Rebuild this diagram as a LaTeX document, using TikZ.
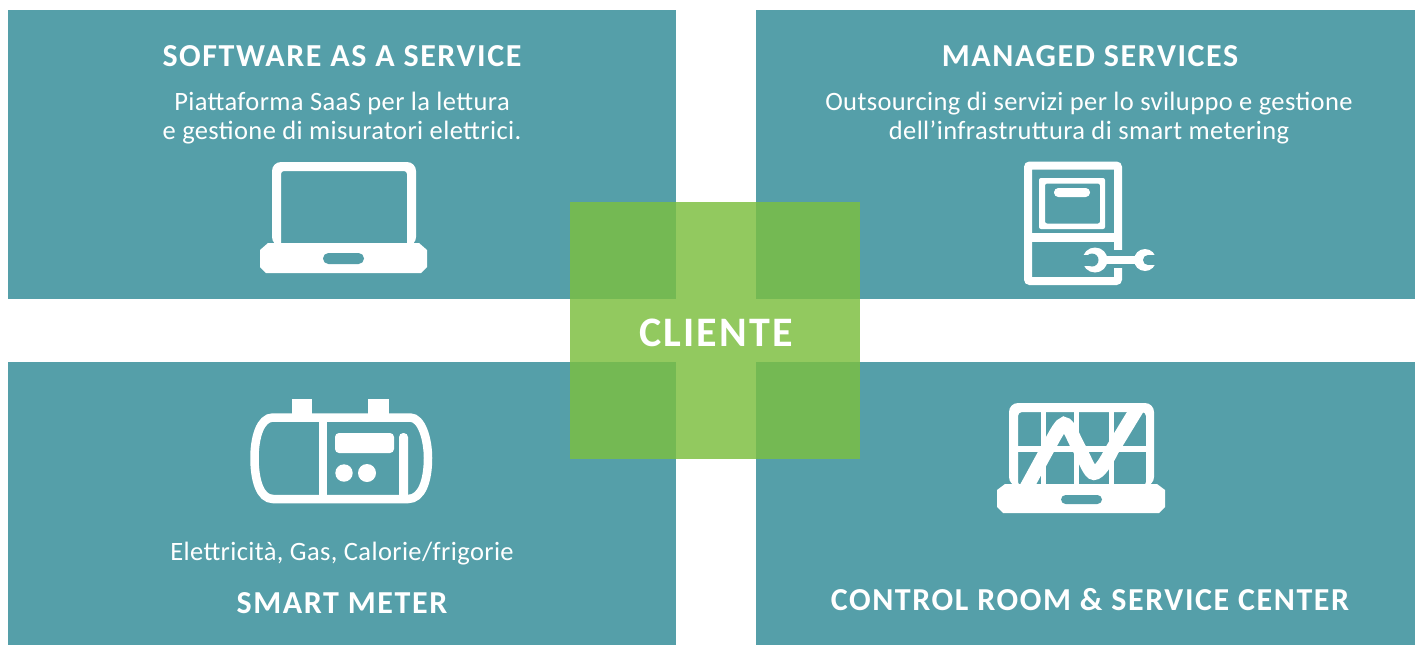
\documentclass[tikz,border=0pt]{standalone}
\usepackage{fontspec}
\setmainfont{Carlito}
\newfontfamily\headfont[LetterSpace=5,BoldFont=Carlito Bold]{Carlito}
\newfontfamily\bodyfont[LetterSpace=1.5]{Carlito}
\definecolor{teal}{HTML}{559FA9}
\definecolor{gl}{HTML}{92C95F}
\definecolor{gd}{HTML}{74B953}
\tikzset{
  panel/.style={fill=teal},
  ico/.style={fill=white},
  icoline/.style={draw=white,line width=#1},
  hole/.style={fill=teal},
  head/.style={white,anchor=base,inner sep=0pt,font=\headfont\bfseries\fontsize{32}{34}\selectfont},
  body/.style={white,anchor=base,inner sep=0pt,font=\bodyfont\fontsize{26.5}{28}\selectfont},
}
\begin{document}
\begin{tikzpicture}[x=1pt,y=-1pt]
\useasboundingbox (0,0) rectangle (1415,645);
\fill[white] (0,0) rectangle (1415,645);
% panels
\fill[panel] (8,10) rectangle (676,299);
\fill[panel] (756,10) rectangle (1415,299);
\fill[panel] (8,362) rectangle (676,645);
\fill[panel] (756,362) rectangle (1415,645);
% centre
\fill[gl] (570,202) rectangle (860,459);
\fill[gd] (570,202) rectangle (676,299);
\fill[gd] (756,202) rectangle (860,299);
\fill[gd] (570,362) rectangle (676,459);
\fill[gd] (756,362) rectangle (860,459);
% texts
\node[head] (saas) at (342,66) {SOFTWARE AS A SERVICE};
\node[body] (saas1) at (342,110) {Piattaforma SaaS per la lettura};
\node[body] (saas2) at (342,139) {e gestione di misuratori elettrici.};
\node[head] (ms) at (1090,66) {MANAGED SERVICES};
\node[body] (ms1) at (1089,110) {Outsourcing di servizi per lo sviluppo e gestione};
\node[body] (ms2) at (1089,139) {dell’infrastruttura di smart metering};
\node[head,font=\headfont\bfseries\fontsize{42}{44}\selectfont] (cl) at (716,346) {CLIENTE};
\node[body] (sm1) at (342,560) {Elettricità, Gas, Calorie/frigorie};
\node[head] (sm) at (342,613) {SMART METER};
\node[head] (cr) at (1090,610) {CONTROL ROOM \& SERVICE CENTER};
% laptop
\fill[ico,even odd rule,rounded corners=9pt] (272,246) -- (272,162) -- (416,162) -- (416,246) -- cycle
  [rounded corners=3pt] (281,246) -- (281,171) -- (407,171) -- (407,246) -- cycle;
\fill[ico] (268,243) -- (419,243) -- (427,250) -- (427,267) -- (421,273) -- (266,273) -- (260,267) -- (260,250) -- cycle;
\fill[hole,rounded corners=5.4pt] (323,253) rectangle (364,264);
% managed icon
\draw[icoline=8pt,rounded corners=2pt] (1028,165.5) rectangle (1118,281);
\fill[ico] (1028,233) rectangle (1118,242);
\fill[ico,even odd rule,rounded corners=2pt] (1039,178) rectangle (1105,229) (1045,183.5) rectangle (1100,223.5);
\fill[ico,rounded corners=4.3pt] (1054,188) rectangle (1090,197);
\fill[hole] (1112,250) rectangle (1123,268);
\fill[ico] (1095,255.7) rectangle (1146,264.3);
\fill[ico] (1095,260) circle (12.5);
\fill[ico] (1145,260) circle (11);
\fill[hole] (1092,260) circle (6.5);
\fill[hole] (1080,254.5) rectangle (1092,265.5);
\fill[hole] (1148,260) circle (5);
\fill[hole] (1148,255) rectangle (1158,265);
% meter
\draw[icoline=8.5pt] (273,417.5) -- (410,417.5) .. controls (422,417.5) and (428,440) .. (428,458) .. controls (428,480) and (422,499) .. (408,499) -- (273,499) .. controls (260,499) and (254.5,480) .. (254.5,458) .. controls (254.5,438) and (260,417.5) .. (273,417.5) -- cycle;
\fill[ico] (292,399) rectangle (312,414);
\fill[ico] (368,399) rectangle (389,414);
\fill[ico] (319,418) rectangle (327,500);
\fill[ico,rounded corners=4pt] (335,433) rectangle (394,453);
\fill[ico] (344,473) circle (8.7);
\fill[ico] (367,473) circle (9);
\fill[ico,rounded corners=4.2pt] (399,433) -- (408,433) -- (408,500) -- (399,500) -- cycle;
% control room
\fill[ico,even odd rule,rounded corners=9pt] (1009,486) -- (1009,403) -- (1154,403) -- (1154,486) -- cycle
  [rounded corners=4pt] (1018,486) -- (1018,412) -- (1146,412) -- (1146,486) -- cycle;
\fill[ico] (1041,410) rectangle (1046,486);
\fill[ico] (1074,410) rectangle (1079,486);
\fill[ico] (1109,410) rectangle (1114,486);
\fill[ico] (1016,446) rectangle (1148,452);
\begin{scope}
\clip (1018,412) rectangle (1146,486);
\draw[icoline=14pt] (1024,492) -- (1048,448) .. controls (1056,433) and (1061,424) .. (1064,424) .. controls (1069,424) and (1074,440) .. (1080,450) .. controls (1086,462) and (1090,473) .. (1094,473) .. controls (1099,473) and (1106,462) .. (1112,450) -- (1140,404);
\end{scope}
\fill[ico] (1005,484) -- (1157,484) -- (1165,490) -- (1165,507) -- (1159,513) -- (1003,513) -- (997,507) -- (997,490) -- cycle;
\fill[hole,rounded corners=4.6pt] (1061,495) rectangle (1102,504);
\end{tikzpicture}
\end{document}
